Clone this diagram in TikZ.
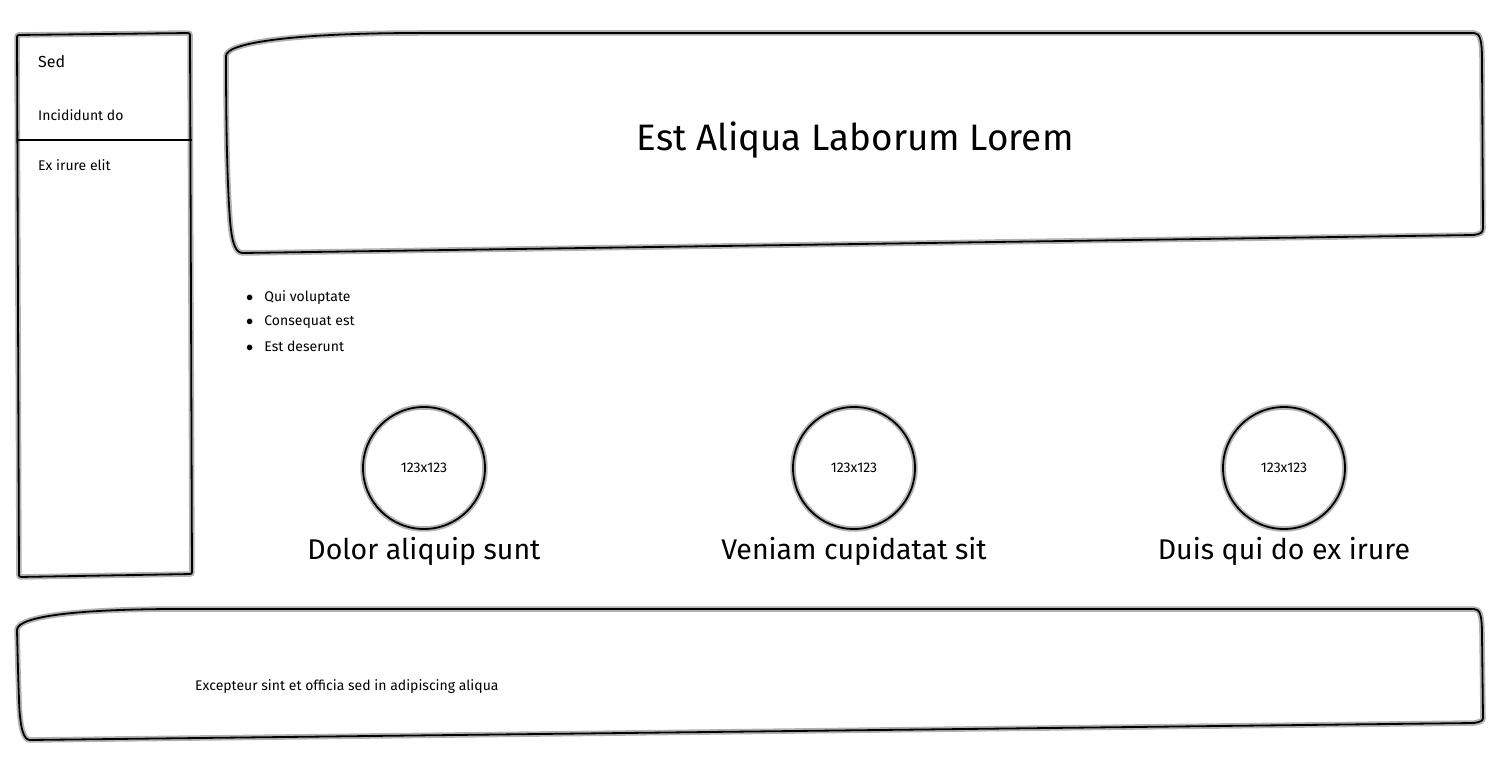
\documentclass[tikz,border=0pt]{standalone}
\usepackage{fontspec}
\setmainfont{Fira Sans}
\usetikzlibrary{positioning}

\begin{document}
\begin{tikzpicture}[x=1pt, y=-1pt, node distance=430pt]
            \tikzset{sketch/.style = {draw, line width=1.8pt, line join=round, preaction={draw=black!30, line width=5.5pt}},
                     photo/.style = {sketch, shape=circle, minimum size=122pt, inner sep=0pt, font=\fontsize{14}{16}\selectfont},
                     caption/.style = {inner sep=0pt, font=\fontsize{28.5}{32}\selectfont},
                     small/.style = {anchor=west, inner sep=0pt, font=\fontsize{14}{16}\selectfont}}

            \useasboundingbox (0,0) rectangle (1500,773);

            % sidebar
            \draw[sketch, rounded corners=2pt] (17,35) -- (190,33) -- (192,574) -- (19,577) -- cycle;
            \draw[line width=1.8pt] (17,140) -- (192,140);
            \node[small, font=\fontsize{16}{18}\selectfont] (sed) at (38,62) {Sed};
            \node[small] (inc) at (38,115) {Incididunt do};
            \node[small] (ex) at (38,165) {Ex irure elit};

            % header
            \draw[sketch] (226,56) .. controls (226,42) and (300,33) .. (420,33) -- (1474,33)
                .. controls (1480,33) and (1482,40) .. (1482,60) -- (1483,228)
                .. controls (1483,233) and (1480,234) .. (1474,235) -- (243,253)
                .. controls (236,253) and (232,245) .. (230,220)
                .. controls (227,180) and (226,120) .. (226,56) -- cycle;
            \node[inner sep=0pt, font=\fontsize{36.8}{42}\selectfont] (title) at (855,140) {Est Aliqua Laborum Lorem};

            % list
            \node[small] (i1) at (246,298) {$\bullet$\hspace{11pt}Qui voluptate};
            \node[small] (i2) at (246,322) {$\bullet$\hspace{11pt}Consequat est};
            \node[small] (i3) at (246,346) {$\bullet$\hspace{11pt}Est deserunt};

            % pictures
            \node[photo] (p1) at (424,468) {123x123};
            \node[photo, right of=p1] (p2) {123x123};
            \node[photo, right of=p2] (p3) {123x123};

            \node[caption, below=7pt of p1] (c1) {Dolor aliquip sunt};
            \node[caption, below=7pt of p2] (c2) {Veniam cupidatat sit};
            \node[caption, below=7pt of p3] (c3) {Duis qui do ex irure};

            % footer
            \draw[sketch] (17,630) .. controls (17,616) and (80,609) .. (180,609) -- (1474,609)
                .. controls (1480,609) and (1482,615) .. (1482,635) -- (1483,718)
                .. controls (1483,721) and (1480,722) .. (1474,723) -- (30,740)
                .. controls (24,740) and (20,730) .. (19,700)
                .. controls (18,670) .. (17,630) -- cycle;
            \node[small] (foot) at (195,687) {Excepteur sint et officia sed in adipiscing aliqua};
        \end{tikzpicture}
\end{document}
